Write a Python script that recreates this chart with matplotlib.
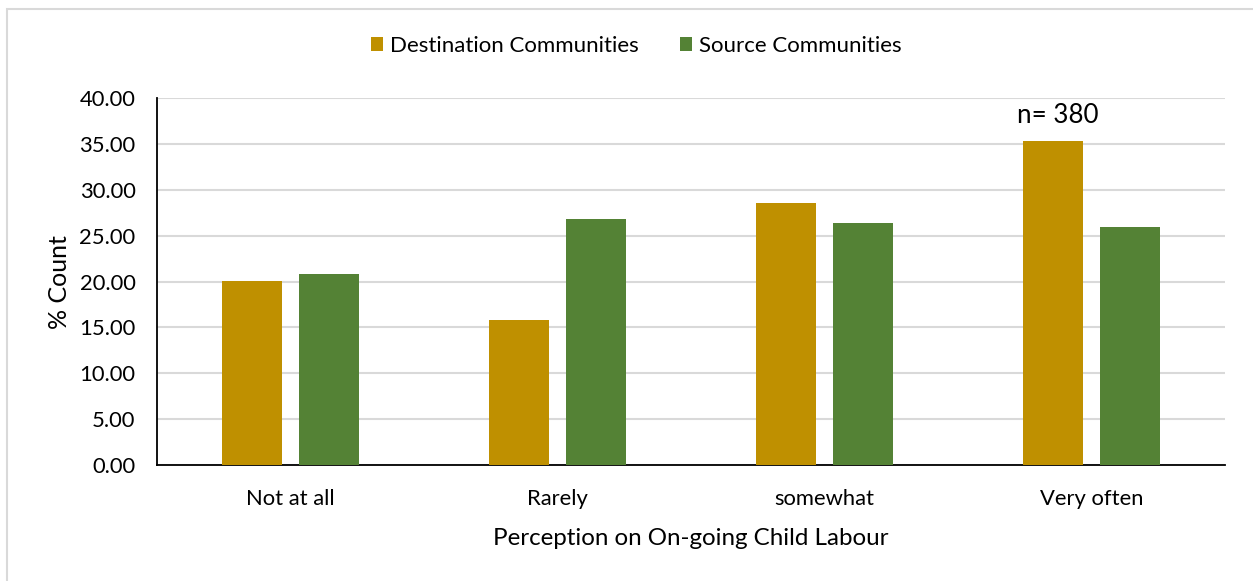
import matplotlib
matplotlib.use("Agg")
import matplotlib.pyplot as plt
import numpy as np
from matplotlib.patches import Rectangle

plt.rcParams['font.family'] = ['Lato', 'DejaVu Sans']

categories = ["Not at all", "Rarely", "somewhat", "Very often"]
destination = [20.07, 15.82, 28.62, 35.35]
source = [20.84, 26.84, 26.36, 25.93]
series_names = ["Destination Communities", "Source Communities"]
y_ticks = [0, 5, 10, 15, 20, 25, 30, 35, 40]
annotation_text = "n= 380"

dest_color = "#BF9000"
src_color = "#548235"
grid_color = "#D9D9D9"

W, H = 1253, 581
fig = plt.figure(figsize=(W / 100, H / 100), dpi=100)
ax = fig.add_axes([157 / W, (H - 465) / H, (1225 - 157) / W, (465 - 98.3) / H])

x = np.arange(len(categories))
bw = 0.225
off = 0.1425
b1 = ax.bar(x - off, destination, bw, color=dest_color, label=series_names[0], zorder=3)
b2 = ax.bar(x + off, source, bw, color=src_color, label=series_names[1], zorder=3)

ax.set_xlim(-0.5, len(categories) - 0.5)
ax.set_ylim(0, 40)
ax.set_yticks(y_ticks)
ax.set_yticklabels([f"{v:.2f}" for v in y_ticks])
ax.set_xticks(x)
ax.set_xticklabels(categories)

ax.yaxis.grid(True, color=grid_color, lw=1.5, zorder=0)
ax.set_axisbelow(True)
for s in ("top", "right"):
    ax.spines[s].set_visible(False)
for s in ("left", "bottom"):
    ax.spines[s].set_color("black")
    ax.spines[s].set_linewidth(1.3)

ax.tick_params(axis="both", length=0, labelsize=15.8, colors="black")
ax.tick_params(axis="y", pad=15.5)
ax.tick_params(axis="x", pad=17)

ax.set_xlabel("Perception on On-going Child Labour", fontsize=17.4, labelpad=14)
ax.set_ylabel("% Count", fontsize=18, labelpad=6)

# sample size above the tallest bar
ax.annotate(annotation_text, xy=(x[3] - off, destination[3]), xytext=(3, 9),
            textcoords="offset points", ha="center", va="bottom", fontsize=18.7)

leg = fig.legend(handles=[b1, b2], labels=series_names, loc="center",
                 bbox_to_anchor=(636 / W, 1 - 46 / H), ncol=2, frameon=False,
                 fontsize=16, handlelength=0.55, handleheight=0.55,
                 handletextpad=0.3, columnspacing=1.85)

# chart-area outline
fig.patches.append(Rectangle((7 / W, -0.2), 1.5, 1.2 - 8.5 / H,
                             transform=fig.transFigure, fill=False,
                             edgecolor=grid_color, lw=1.5))

fig.savefig("out.png", dpi=100)
